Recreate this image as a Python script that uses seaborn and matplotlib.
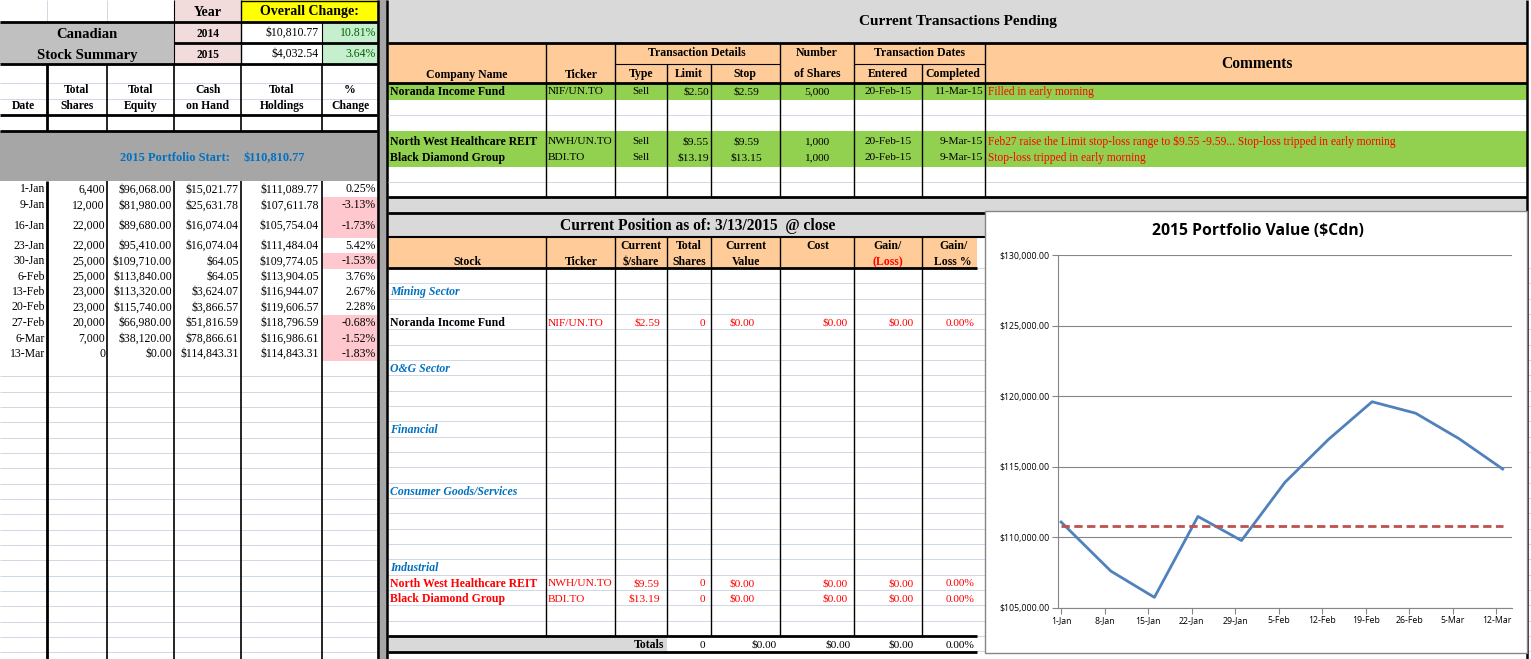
import matplotlib
matplotlib.use('Agg')  # no display
import matplotlib.pyplot as plt
import matplotlib.dates as mdates
from matplotlib.ticker import FuncFormatter
from matplotlib.patches import Rectangle
from matplotlib.transforms import Bbox, TransformedBbox
import numpy as np
import pandas as pd
import seaborn as sns

# ---- summary table (left) ----
row_dates = ['1-Jan', '9-Jan', '16-Jan', '23-Jan', '30-Jan', '6-Feb', '13-Feb', '20-Feb', '27-Feb', '6-Mar', '13-Mar']
iso_dates = ['2015-01-01', '2015-01-09', '2015-01-16', '2015-01-23', '2015-01-30', '2015-02-06',
             '2015-02-13', '2015-02-20', '2015-02-27', '2015-03-06', '2015-03-13']
total_shares = [6400, 12000, 22000, 22000, 25000, 25000, 23000, 23000, 20000, 7000, 0]
total_equity = [96068.00, 81980.00, 89680.00, 95410.00, 109710.00, 113840.00, 113320.00, 115740.00, 66980.00, 38120.00, 0.00]
cash_on_hand = [15021.77, 25631.78, 16074.04, 16074.04, 64.05, 64.05, 3624.07, 3866.57, 51816.59, 78866.61, 114843.31]
total_holdings = [111089.77, 107611.78, 105754.04, 111484.04, 109774.05, 113904.05, 116944.07, 119606.57, 118796.59, 116986.61, 114843.31]
pct_change = [0.25, -3.13, -1.73, 5.42, -1.53, 3.76, 2.67, 2.28, -0.68, -1.52, -1.83]
portfolio_start = 110810.77
years = ['2014', '2015']
year_change = [10810.77, 4032.54]
year_pct = [10.81, 3.64]

# ---- pending transactions ----
tx_company = ['Noranda Income Fund', 'North West Healthcare REIT', 'Black Diamond Group']
tx_ticker = ['NIF/UN.TO', 'NWH/UN.TO', 'BDI.TO']
tx_type = ['Sell', 'Sell', 'Sell']
tx_limit = [2.50, 9.55, 13.19]
tx_stop = [2.59, 9.59, 13.15]
tx_shares = [5000, 1000, 1000]
tx_entered = ['20-Feb-15', '20-Feb-15', '20-Feb-15']
tx_completed = ['11-Mar-15', '9-Mar-15', '9-Mar-15']
tx_comment = ['Filled in early morning',
              'Feb27 raise the Limit stop-loss range to $9.55 -9.59... Stop-loss tripped in early morning',
              'Stop-loss tripped in early morning']

# ---- current position ----
sectors = ['Mining Sector', 'O&G Sector', 'Financial', 'Consumer Goods/Services', 'Industrial']
pos_stock = ['Noranda Income Fund', 'North West Healthcare REIT', 'Black Diamond Group']
pos_ticker = ['NIF/UN.TO', 'NWH/UN.TO', 'BDI.TO']
pos_price = [2.59, 9.59, 13.19]
pos_shares = [0, 0, 0]
pos_value = [0.00, 0.00, 0.00]
pos_cost = [0.00, 0.00, 0.00]
pos_gain = [0.00, 0.00, 0.00]
pos_gain_pct = [0.00, 0.00, 0.00]

W, H = 1531, 659
SERIF = 'Liberation Serif'
GRID = '#D0D7E5'
PEACH = '#FFCC99'
GREEN = '#92D050'
GRAY = '#D9D9D9'
BLUE = '#0070C0'
RED = '#FF0000'

fig = plt.figure(figsize=(W / 100, H / 100), dpi=100)
bg = fig.add_axes([0, 0, 1, 1])
bg.set_xlim(0, W)
bg.set_ylim(H, 0)
bg.axis('off')


def money(v):
    return f'${v:,.2f}'


def box(x0, y0, x1, y1, color):
    bg.add_patch(Rectangle((x0, y0), x1 - x0, y1 - y0, facecolor=color, edgecolor='none', zorder=1))


def hl(y, x0, x1, lw=0.8, color='black', z=3):
    bg.plot([x0, x1], [y, y], color=color, lw=lw, zorder=z, solid_capstyle='butt')


def vl(x, y0, y1, lw=0.8, color='black', z=3):
    bg.plot([x, x], [y0, y1], color=color, lw=lw, zorder=z, solid_capstyle='butt')


def t(x, y, s, ha='left', size=8.5, weight='normal', color='black', style='normal'):
    bg.text(x, y, s, ha=ha, va='center', fontsize=size, fontweight=weight, color=color,
            fontstyle=style, family=SERIF, zorder=5)


# light spreadsheet grid everywhere
for y in np.arange(268, H, 15.33):
    hl(y, 0, W, lw=0.7, color=GRID, z=0)

# ================= LEFT PANEL =================
box(0, 0, 377, 659, 'white')
for y in np.arange(361 + 15.33, H, 15.33):
    hl(y, 0, 377, lw=0.7, color=GRID, z=2)
vl(47, 0, 22, lw=0.7, color=GRID)
vl(107, 0, 22, lw=0.7, color=GRID)
box(174, 0, 241, 64, '#F2DCDB')
box(241, 0, 377, 22, '#FFFF00')
box(0, 22, 174, 64, '#C0C0C0')
box(322, 22, 377, 64, '#C6EFCE')
t(208, 12, 'Year', ha='center', size=10, weight='bold')
t(309, 11, 'Overall Change:', ha='center', size=10, weight='bold')
t(87, 34, 'Canadian', ha='center', size=10.5, weight='bold')
t(87, 55, 'Stock Summary', ha='center', size=10.5, weight='bold')
for i, yy in enumerate([33, 54]):
    t(208, yy + 1, years[i], ha='center', size=8.3, weight='bold')
    t(319, yy, money(year_change[i]), ha='right')
    t(376, yy, f'{year_pct[i]:.2f}%', ha='right', color='#006100')
hl(0.5, 241, 377, lw=1)
vl(241, 0, 64, lw=1)
vl(174, 0, 64, lw=0.8)
vl(322, 22, 64, lw=0.8)
hl(22, 0, 377, lw=2)
hl(43, 174, 377, lw=2)
hl(64, 0, 377, lw=2)

# column headers
for y in [83, 99]:
    hl(y, 0, 377, lw=0.7, color=GRID, z=2)
heads = [(23, None, 'Date'), (77, 'Total', 'Shares'), (141, 'Total', 'Equity'),
         (208, 'Cash', 'on Hand'), (282, 'Total', 'Holdings'), (350, '%', 'Change')]
for x, top, bot in heads:
    if top:
        t(x, 90, top, ha='center', size=8.4, weight='bold')
    t(x, 106, bot, ha='center', size=8.4, weight='bold')
hl(115, 0, 377, lw=2)
hl(131, 0, 377, lw=2)
box(0, 131, 377, 181, '#A6A6A6')
t(175, 158, '2015 Portfolio Start:', ha='center', size=8.9, weight='bold', color=BLUE)
t(274, 158, money(portfolio_start), ha='center', size=8.9, weight='bold', color=BLUE)

# data rows
row_edges = [181, 197, 213, 238, 253, 269, 284, 299, 315, 330, 346, 361]
for i in range(len(row_dates)):
    y0, y1 = row_edges[i], row_edges[i + 1]
    yc = (y0 + y1) / 2 + 0.5
    if pct_change[i] < 0:
        box(322, y0, 377, y1, '#FFC7CE')
    t(45, yc, row_dates[i], ha='right')
    t(105, yc, f'{total_shares[i]:,}', ha='right')
    t(172, yc, money(total_equity[i]), ha='right')
    t(239, yc, money(cash_on_hand[i]), ha='right')
    t(319, yc, money(total_holdings[i]), ha='right')
    t(376, yc, f'{pct_change[i]:.2f}%', ha='right')
for x, lw in [(47, 2), (107, 1.2), (174, 1.2), (241, 1.2), (322, 1.2)]:
    vl(x, 64, 131, lw=lw)
    vl(x, 181, H, lw=lw)

# separator
box(377, 0, 388, H, '#A6A6A6')
vl(377.5, 0, H, lw=1.8)
vl(387, 0, H, lw=1.8)

# ================= TRANSACTIONS =================
box(388, 0, 1527, 43, GRAY)
t(958, 21, 'Current Transactions Pending', ha='center', size=11, weight='bold')
box(388, 43, 1527, 83, PEACH)
box(388, 83, 1527, 196, 'white')
box(388, 83, 1527, 100, GREEN)
box(388, 131, 1527, 167, GREEN)
hl(115, 388, 1527, lw=0.7, color=GRID)
hl(182, 388, 1527, lw=0.7, color=GRID)
hl(43, 388, 1527, lw=2)
hl(64, 615, 780, lw=0.8)
hl(64, 854, 985, lw=0.8)
hl(83, 388, 1527, lw=2)
hl(197, 388, 1527, lw=2)
for x in [546, 615, 780, 854, 985]:
    vl(x, 43, 197, lw=1)
for x in [667, 711, 922]:
    vl(x, 64, 197, lw=1)
vl(1527, 0, H, lw=1.8)

hs = 8.5
t(467, 75, 'Company Name', ha='center', size=hs, weight='bold')
t(581, 75, 'Ticker', ha='center', size=hs, weight='bold')
t(697, 53, 'Transaction Details', ha='center', size=hs, weight='bold')
t(641, 74, 'Type', ha='center', size=hs, weight='bold')
t(689, 74, 'Limit', ha='center', size=hs, weight='bold')
t(745, 74, 'Stop', ha='center', size=hs, weight='bold')
t(817, 53, 'Number', ha='center', size=hs, weight='bold')
t(817, 74, 'of Shares', ha='center', size=hs, weight='bold')
t(919, 53, 'Transaction Dates', ha='center', size=hs, weight='bold')
t(888, 74, 'Entered', ha='center', size=hs, weight='bold')
t(953, 74, 'Completed', ha='center', size=hs, weight='bold')
t(1257, 64, 'Comments', ha='center', size=11.2, weight='bold')

tx_y = [92, 142, 158]
for i in range(len(tx_company)):
    y = tx_y[i]
    t(390, y, tx_company[i], size=8.5, weight='bold')
    t(548, y, tx_ticker[i], size=8.2)
    t(641, y, tx_type[i], ha='center', size=7.8)
    t(709, y, money(tx_limit[i]), ha='right', size=8.2)
    t(746, y, money(tx_stop[i]), ha='center', size=8.2)
    t(817, y, f'{tx_shares[i]:,}', ha='center', size=8.2)
    t(888, y, tx_entered[i], ha='center', size=8.2)
    t(983, y - 1, tx_completed[i], ha='right', size=8.2)
    t(988, y, tx_comment[i], size=8.3, color=RED)

box(388, 197, 1527, 213, GRAY)

# ================= CURRENT POSITION =================
box(388, 213, 985, 237, GRAY)
t(698, 226, 'Current Position as of: 3/13/2015  @ close', ha='center', size=11.2, weight='bold')
hl(213, 388, 985, lw=2)
hl(237, 388, 985, lw=1.5)
box(388, 237, 977, 268, PEACH)
hl(268, 388, 977, lw=2)
t(467, 262, 'Stock', ha='center', size=hs, weight='bold')
t(581, 262, 'Ticker', ha='center', size=hs, weight='bold')
t(641, 246, 'Current', ha='center', size=hs, weight='bold')
t(641, 262, '$/share', ha='center', size=hs, weight='bold')
t(689, 246, 'Total', ha='center', size=hs, weight='bold')
t(689, 262, 'Shares', ha='center', size=hs, weight='bold')
t(746, 246, 'Current', ha='center', size=hs, weight='bold')
t(746, 262, 'Value', ha='center', size=hs, weight='bold')
t(818, 246, 'Cost', ha='center', size=hs, weight='bold')
t(888, 246, 'Gain/', ha='center', size=hs, weight='bold')
t(888, 262, '(Loss)', ha='center', size=hs, weight='bold', color=RED)
t(953, 246, 'Gain/', ha='center', size=hs, weight='bold')
t(953, 262, 'Loss %', ha='center', size=hs, weight='bold')
for x in [546, 615, 667, 711, 780, 854, 922]:
    vl(x, 237, 636, lw=1)

sector_rows = [1, 6, 10, 14, 19]
stock_rows = [3, 20, 21]
for name, r in zip(sectors, sector_rows):
    t(390, 268 + 15.33 * (r + 0.5) + 1.5, name, size=8.5, weight='bold', style='italic', color=BLUE)
for i, r in enumerate(stock_rows):
    y = 268 + 15.33 * (r + 0.5) + 1.5
    t(390, y, pos_stock[i], size=8.5, weight='bold', color='black' if i == 0 else RED)
    t(548, y, pos_ticker[i], size=8.2, color=RED)
    t(660, y, money(pos_price[i]), ha='right', size=8.2, color=RED)
    t(705, y, f'{pos_shares[i]}', ha='right', size=8.2, color=RED)
    t(729, y, money(pos_value[i]), size=8.2, color=RED)
    t(848, y, money(pos_cost[i]), ha='right', size=8.2, color=RED)
    t(914, y, money(pos_gain[i]), ha='right', size=8.2, color=RED)
    t(974, y, f'{pos_gain_pct[i]:.2f}%', ha='right', size=8.2, color=RED)

box(388, 636, 667, 652, GRAY)
hl(636, 388, 977, lw=2)
hl(652, 388, 977, lw=2)
t(664, 645, 'Totals', ha='right', size=8.5, weight='bold')
t(705, 645, f'{sum(pos_shares)}', ha='right', size=8.2)
t(777, 645, money(sum(pos_value)), ha='right', size=8.2)
t(851, 645, money(sum(pos_cost)), ha='right', size=8.2)
t(914, 645, money(sum(pos_gain)), ha='right', size=8.2)
t(974, 645, f'{sum(pos_gain_pct):.2f}%', ha='right', size=8.2)

# ================= CHART =================
bg.add_patch(Rectangle((985, 211), 542, 442, facecolor='white', edgecolor='#868686', lw=1, zorder=6))

ax = fig.add_axes([1058 / W, 1 - 608 / H, 454 / W, 353 / H], zorder=7)
ax.set_facecolor('none')
chart = pd.DataFrame({'date': pd.to_datetime(iso_dates), 'holdings': total_holdings,
                      'start': [portfolio_start] * len(iso_dates)})
sns.lineplot(data=chart, x='date', y='holdings', ax=ax, color='#4F81BD', lw=2)
sns.lineplot(data=chart, x='date', y='start', ax=ax, color='#C0504D', lw=2, linestyle=(0, (3, 1.6)))
ax.set_ylim(105000, 130000)
ax.set_yticks(np.arange(105000, 130001, 5000))
ax.yaxis.set_major_formatter(FuncFormatter(lambda v, p: f'${v:,.2f}'))
t0 = pd.Timestamp('2015-01-01')
ax.set_xlim(t0 - pd.Timedelta(hours=12), t0 + pd.Timedelta(days=72.5))
ax.set_xticks(pd.date_range('2015-01-01', periods=11, freq='7D'))
ax.xaxis.set_major_formatter(mdates.DateFormatter('%-d-%b'))
ax.grid(axis='y', color='#868686', lw=0.8)
ax.set_axisbelow(True)
ax.set_xlabel('')
ax.set_ylabel('')
for s in ['top', 'right']:
    ax.spines[s].set_visible(False)
for s in ['left', 'bottom']:
    ax.spines[s].set_color('#868686')
    ax.spines[s].set_linewidth(0.8)
ax.tick_params(axis='both', length=4, width=0.8, color='#868686', labelsize=6.3, pad=2)
fig.canvas.draw()
clip = TransformedBbox(Bbox([[0, 0], [1512 / W, 1]]), fig.transFigure)
for lab in ax.get_xticklabels() + ax.get_yticklabels():
    lab.set_family('Open Sans')
    lab.set_clip_box(clip)
    lab.set_clip_on(True)
fig.text(1258 / W, 1 - 231 / H, '2015 Portfolio Value ($Cdn)', ha='center', va='center',
         fontsize=11.3, fontweight='bold', family='Open Sans', zorder=8)

fig.savefig('out.png', dpi=100)
